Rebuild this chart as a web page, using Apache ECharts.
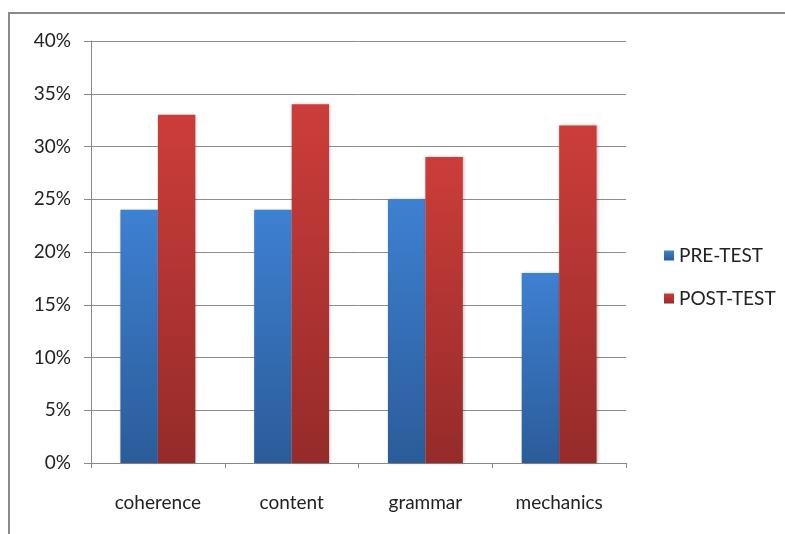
<!DOCTYPE html>
<html><head><meta charset="utf-8">
<script src="https://cdn.jsdelivr.net/npm/echarts@6/dist/echarts.min.js"></script>
<style>html,body{margin:0;padding:0;background:#fff}#c{width:785px;height:534px}</style>
</head><body><div id="c"></div>
<script>
const categories = ['coherence', 'content', 'grammar', 'mechanics'];
const preTest = [24, 24, 25, 18];
const postTest = [33, 34, 29, 32];
const yTicks = { min: 0, max: 40, interval: 5 };

function grad(top, bottom) {
  return new echarts.graphic.LinearGradient(0, 0, 0, 1, [
    { offset: 0, color: top }, { offset: 1, color: bottom }
  ]);
}
const font = 'Lato, "Open Sans", sans-serif';
const chart = echarts.init(document.getElementById('c'));
chart.setOption({
  animation: false,
  backgroundColor: '#fff',
  graphic: [
    { type: 'line', shape: { x1: 9, y1: 13, x2: 785, y2: 13 }, style: { stroke: '#8a8a8a', lineWidth: 2 } },
    { type: 'line', shape: { x1: 9, y1: 12, x2: 9, y2: 534 }, style: { stroke: '#8a8a8a', lineWidth: 2 } }
  ],
  grid: { left: 91, right: 159, top: 41, bottom: 71 },
  legend: {
    orient: 'vertical', left: 659, top: 241, itemWidth: 10, itemHeight: 10, itemGap: 24,
    icon: 'rect',
    textStyle: { fontFamily: font, fontSize: 19, color: '#222' },
    data: ['PRE-TEST', 'POST-TEST']
  },
  xAxis: {
    type: 'category', data: categories,
    axisLine: { lineStyle: { color: '#888', width: 1 } },
    axisTick: { show: true, length: 5, lineStyle: { color: '#888' } },
    axisLabel: { fontFamily: font, fontSize: 19, color: '#222', margin: 30 }
  },
  yAxis: {
    type: 'value', min: yTicks.min, max: yTicks.max, interval: yTicks.interval,
    axisLine: { show: true, lineStyle: { color: '#888' } },
    axisTick: { show: true, length: 7, lineStyle: { color: '#888' } },
    splitLine: { lineStyle: { color: '#8c8c8c', width: 1 } },
    axisLabel: { formatter: '{value}%', fontFamily: font, fontSize: 19, color: '#222', margin: 20 }
  },
  series: [
    { name: 'PRE-TEST', type: 'bar', data: preTest, barGap: '0%', barCategoryGap: '44%',
      itemStyle: { color: grad('#3e80d2', '#2b5c99'), shadowColor: 'rgba(0,0,0,0.25)', shadowBlur: 3, shadowOffsetX: 1 } },
    { name: 'POST-TEST', type: 'bar', data: postTest, barGap: '0%', barCategoryGap: '44%',
      itemStyle: { color: grad('#cc3d3a', '#952b29'), shadowColor: 'rgba(0,0,0,0.25)', shadowBlur: 3, shadowOffsetX: 1 } }
  ]
});
</script></body></html>
